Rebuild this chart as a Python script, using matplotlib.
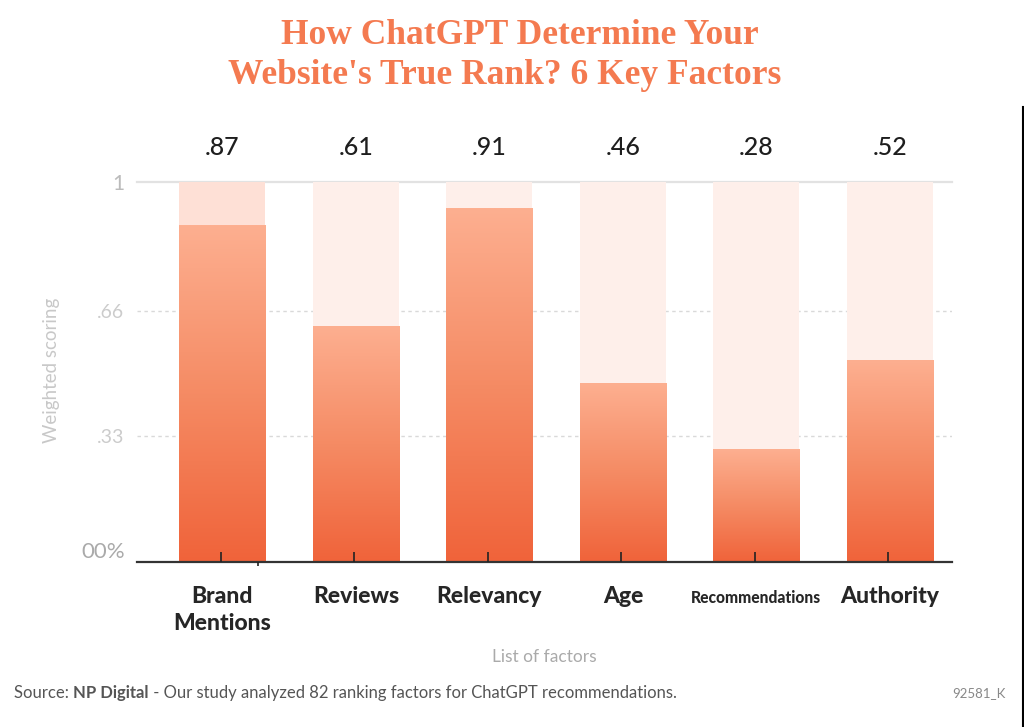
import numpy as np
import matplotlib
matplotlib.use('Agg')
import matplotlib.pyplot as plt
import matplotlib.transforms as mtransforms
from matplotlib.colors import LinearSegmentedColormap

# ---- data ----
categories = ['Brand\nMentions', 'Reviews', 'Relevancy', 'Age', 'Recommendations', 'Authority']
scores = [0.885, 0.62, 0.93, 0.47, 0.295, 0.53]          # drawn bar heights
score_labels = ['.87', '.61', '.91', '.46', '.28', '.52']  # printed values
ytick_values = [0, 0.33, 0.66, 1]
ytick_labels = ['00%', '.33', '.66', '1']
title_lines = ['How ChatGPT Determine Your', "Website's True Rank? 6 Key Factors"]

W, H = 1024, 727
fig = plt.figure(figsize=(W / 100, H / 100), dpi=100)

def fx(x):
    return x / W

def fy(y):
    return 1 - y / H

# axes placed in pixel space
ax_l, ax_r, ax_t, ax_b = 137, 952, 181.7, 561.7
ax = fig.add_axes([fx(ax_l), fy(ax_b), fx(ax_r) - fx(ax_l), fy(ax_t) - fy(ax_b)])

n = len(categories)
x = np.arange(n)
bar_w = 0.645
bg_colors = ['#FEE0D6'] + ['#FEEFEA'] * (n - 1)
grad = LinearSegmentedColormap.from_list('g', ['#F0633A', '#F58B64', '#FDAF90'])
gimg = np.linspace(0, 1, 256).reshape(-1, 1)

# background full-height bars
ax.bar(x, [1] * n, width=bar_w, color=bg_colors, zorder=2, linewidth=0)
# gradient bars
for xi, h in zip(x, scores):
    ax.imshow(gimg, cmap=grad, extent=(xi - bar_w / 2, xi + bar_w / 2, 0, h),
              origin='lower', aspect='auto', zorder=3, interpolation='bilinear')

ax.set_xlim(-0.64, 5.465)
ax.set_ylim(0, 1)

# grid lines
ax.axhline(1, color='#E2E2E2', lw=1.6, zorder=1, clip_on=False)
for v in [0.33, 0.66]:
    ax.axhline(v, color='#D9D9D9', lw=1.0, ls=(0, (2.5, 2.5)), zorder=1)

# spines
for s in ['top', 'right', 'left']:
    ax.spines[s].set_visible(False)
ax.spines['bottom'].set_color('#333333')
ax.spines['bottom'].set_linewidth(1.6)
ax.spines['bottom'].set_zorder(5)

# ticks
ax.xaxis.set_zorder(6)
ax.set_xticks(x - 0.012)
ax.set_xticklabels([])
ax.tick_params(axis='x', direction='in', length=7.5, width=1.2, color='#222222')
ax.set_xticks([0.27], minor=True)
ax.tick_params(axis='x', which='minor', direction='out', length=3, width=1.2, color='#222222')

ax.set_yticks(ytick_values)
ax.set_yticklabels(ytick_labels, fontfamily='Lato')
ax.tick_params(axis='y', length=0, pad=9)
ylab_colors = ['#AAAAAA', '#CCCCCC', '#CCCCCC', '#BBBBBB']
ylab_sizes = [16, 14, 14, 15]
for lab, c, s in zip(ax.get_yticklabels(), ylab_colors, ylab_sizes):
    lab.set_color(c)
    lab.set_fontsize(s)
ax.get_yticklabels()[0].set_va('bottom')

# value labels
for xi, lab in zip(x, score_labels):
    ax.text(xi, 1.09, lab, ha='center', va='center', fontsize=18, fontweight=500,
            fontfamily='Lato', color='#1E1E1E', clip_on=False)

# category labels (each line placed on its own baseline)
cat_sizes = [16.5, 16.5, 16.5, 16.5, 11.2, 16.5]
blend = mtransforms.blended_transform_factory(ax.transData, fig.transFigure)
for xi, lab, s in zip(x, categories, cat_sizes):
    for k, line in enumerate(lab.split('\n')):
        ax.text(xi, fy(603 + 27 * k), line, transform=blend,
                ha='center', va='baseline', fontsize=s, fontweight='black', fontfamily='Lato',
                color='#262626', clip_on=False)

# axis titles
fig.text(fx(52), fy(370), 'Weighted scoring', rotation=90, ha='center', va='center',
         fontsize=13.5, fontfamily='Lato', color='#C8C8C8')
fig.text(fx(544), fy(657), 'List of factors', ha='center', va='center',
         fontsize=12.5, fontfamily='Lato', color='#AAAAAA')

# title
title_color = '#F47A50'
fig.text(fx(520), fy(44), title_lines[0], ha='center', va='baseline', fontsize=25.5,
         fontweight='bold', fontfamily='Liberation Serif', color=title_color)
fig.text(fx(505), fy(84), title_lines[1], ha='center', va='baseline', fontsize=25.5,
         fontweight='bold', fontfamily='Liberation Serif', color=title_color)

# source line built from pieces
renderer = fig.canvas.get_renderer()
parts = [('Source: ', 'normal'), ('NP Digital', 'bold'),
         (' - Our study analyzed 82 ranking factors for ChatGPT recommendations.', 'normal')]
xpos = 14
for txt, wt in parts:
    t = fig.text(fx(xpos), fy(693), txt, ha='left', va='center', fontsize=12,
                 fontweight=wt, fontfamily='Lato', color='#555555')
    bb = t.get_window_extent(renderer=renderer)
    xpos += bb.width
fig.text(fx(1006), fy(693), '92581_K', ha='right', va='center', fontsize=9.5,
         fontfamily='Lato', color='#888888')

# right edge line
fig.add_artist(plt.Line2D([fx(1022.5), fx(1022.5)], [fy(107), fy(727)],
                          transform=fig.transFigure, color='black', lw=1.5))

fig.savefig('out.png', dpi=100, facecolor='white')
